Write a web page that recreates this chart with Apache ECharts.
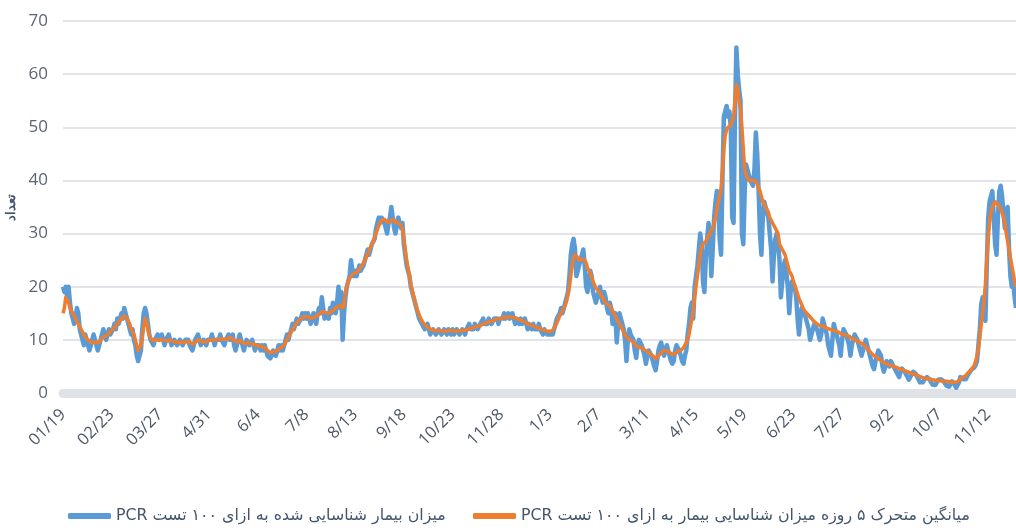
<!DOCTYPE html>
<html>
<head>
<meta charset="utf-8">
<title>PCR</title>
<script src="https://cdn.jsdelivr.net/npm/echarts@6/dist/echarts.min.js"></script>
<style>
  html, body { margin: 0; padding: 0; background: #fff; }
  #chart { width: 1016px; height: 532px; }
</style>
</head>
<body>
<div id="chart"></div>
<script>
// x tick labels, one every 35 days
const tickLabels = ["01/19", "02/23", "03/27", "4/31", "6/4", "7/8", "8/13", "9/18", "10/23", "11/28",
  "1/3", "2/7", "3/11", "4/15", "5/19", "6/23", "7/27", "9/2", "10/7", "11/12"];
const STEP = 35;

// daily positive rate per 100 PCR tests (blue), one row per 35 days
const dailyRate = [
  20,19,20,18,20,17,15,14,13,14,16,15,12,11,10,9,11,10,10,8,9,10,11,10,9,8,9,10,11,12,11,10,11,12,11,
  11,12,13,12,14,13,14,15,14,16,16,14,13,12,11,12,10,9,7,6,6,8,12,15,16,15,13,11,10,10,9,10,10,11,10,
  10,11,10,9,10,10,11,10,9,9,10,10,9,9,10,10,9,9,10,10,10,9,9,8,9,10,10,11,10,9,9,10,10,9,10,
  10,10,11,10,9,10,10,10,11,10,10,9,10,10,11,10,10,11,9,8,9,10,11,10,9,8,9,10,10,9,9,10,9,8,9,
  9,9,8,9,8,9,8,7,7,6.5,7,8,8,7,8,9,8,9,8,9,10,11,10,10,12,13,12,13,14,13,13,14,15,14,15,
  14,15,14,13,14,15,14,13,15,16,15,18,16,14,15,15,14,16,15,17,16,15,17,20,16,19,10,15,18,20,21,22,25,23,22,
  23,22,23,24,23,23,24,25,26,27,26,27,28,28,29,31,32,33,32,33,33,32,31,30,32,33,35,33,31,30,32,33,32,31,32,
  28,26,24,23,22,20,19,18,17,16,15,14,14,13,13,12,12,13,12,11,11,12,12,11,11,12,12,11,11,12,12,11,12,12,11,
  12,11,11,12,12,11,11,12,12,11,12,12,13,12,12,12,13,13,12,12,13,13,14,13,13,13,14,14,13,13,14,14,14,13,14,
  14,14,15,14,14,15,14,14,15,14,13,14,14,13,14,13,13,14,13,12,13,13,12,13,12,12,12,13,12,12,11,12,12,11,11,
  11,11,11,12,13,14,14,15,16,15,16,17,17,19,22,26,28,29,27,22,22,24,25,26,27,24,20,19,21,23,22,19,18,17,18,
  19,20,18,17,19,18,16,15,17,16,13,14,15,9.5,13,15,14,13,12,10,6,10,12,11,11,10,8,6.6,9,10,10,9,8,7,5.5,
  7,8,8,7,6,5,4.3,6,8,9,9.5,8,7,8,9,8,7,6,5.5,6,8,9,9,8,7,6,5.5,7,8,11,13,16,17,14,20,
  22,24,27,30,28,21,19,25,29,32,30,22,27,33,36,38,35,29,26,40,52,53,54,52,53,50,33,32,52,65,60,57,55,30,28,
  38,43,42,41,40,40,39,42,49,45,38,30,26,33,36,35,34,33,33,27,21,26,29,30,28,25,18,21,24,25,25,20,15,19,21,
  21,20,18,14,11,14,16,16,15,14,13,12,10,10,12,13,13,12,11,10,11,14,13,12,11,9,8,7,10,13,12,11,10,9,7,
  10,12,12,11,10,9,7,9,10,11,11,10,9,8,7,8,9,10,9,8,7,6,5,4.5,6,7,8,8,7,5,4,5,6,6,5,
  6,6,5,5,4,3.5,3,4,4.6,4.5,4,3.5,3,2.5,3,3.5,4,3.8,3.6,3,2.5,2,1.7,2,2.5,2.8,3,2.8,2.5,2,1.6,1.3,1.5,2,2.5,
  2.5,2.6,2.7,2.2,1.8,1.4,1.3,1.2,1.8,2.2,2,1.5,1,1.2,2,3,2.8,2.6,2.5,2.6,3.2,3.6,4,4.4,4.2,4.8,5.3,6,9,12,16.7,18,15,13.6,24,
  33,36,37,38,33,28,26,33,38,39,37,34,31,34,35,27,22,20,21,18,16
];

// 5 day moving average (orange), same rows
const movingAvg = [
  15,16,18,17.5,17,16,15.5,15,14.5,14,13.5,13,12.5,12,11.5,11,10.5,10.2,10,9.8,9.6,9.5,9.5,9.6,9.5,9.4,9.5,10,10.3,10.5,10.6,10.8,11,11.2,11.5,
  11.8,12,12.3,12.6,13,13.3,13.6,14,14.2,14.5,14.5,14,13.5,13,12,11.5,11,10,9,8,8,9,10.5,12.5,14,13.5,12,11,10.3,10,9.8,9.8,10,10,10,
  10,10,10,9.9,9.8,9.8,9.9,10,9.9,9.7,9.6,9.6,9.5,9.5,9.6,9.6,9.5,9.5,9.6,9.7,9.8,9.6,9.4,9.2,9.3,9.5,9.8,10,10,9.8,9.6,9.6,9.7,9.7,9.8,
  9.9,10,10,10.1,10,10,10,10.1,10.2,10.2,10.1,10,10.1,10.2,10.3,10.3,10.4,10.2,9.9,9.7,9.6,9.7,9.9,9.8,9.5,9.3,9.3,9.4,9.5,9.4,9.3,9.3,9.2,9,8.9,
  9,8.9,8.8,8.7,8.6,8.5,8.3,8,7.8,7.6,7.6,7.7,7.8,7.9,8,8.2,8.4,8.6,8.8,9,9.5,10,10.5,11,11.5,12,12.4,12.8,13.2,13.5,13.7,14,14.2,14.3,14.4,
  14.4,14.3,14.2,14,14,14.2,14.3,14.4,14.6,14.8,15,15.3,15.3,15.2,15,15,15,15.1,15.3,15.5,15.7,16,16,16.3,16.5,16.5,16,16.5,19,20,21,21.5,22,22.3,22.5,
  22.5,22.7,23,23.3,23.6,24,24.5,25,25.6,26.2,26.8,27.4,28,28.6,29.3,30,30.8,31.5,32,32.4,32.6,32.7,32.5,32.2,32,32.2,32.5,32.7,32.5,32.2,32,32,31.8,31.5,31,
  29,27,25,23.5,22,20.5,19.3,18.2,17.2,16.2,15.4,14.7,14.1,13.6,13.2,12.8,12.5,12.4,12.2,12,11.8,11.8,11.8,11.7,11.7,11.7,11.8,11.7,11.6,11.6,11.7,11.7,11.7,11.8,11.8,
  11.7,11.6,11.6,11.6,11.7,11.7,11.7,11.8,11.8,11.8,11.9,12,12.1,12.2,12.2,12.3,12.4,12.5,12.6,12.6,12.7,12.8,13,13.1,13.2,13.3,13.4,13.5,13.5,13.6,13.7,13.8,13.9,13.9,14,
  14,14.1,14.2,14.3,14.3,14.3,14.4,14.3,14.3,14.2,14.1,14,13.9,13.8,13.7,13.6,13.5,13.4,13.2,13,12.9,12.8,12.7,12.6,12.5,12.4,12.3,12.2,12.1,12,11.9,11.8,11.7,11.6,11.6,
  11.6,11.6,11.8,12.2,12.7,13.2,13.8,14.5,15,15.5,16,16.5,17.3,18.5,20,22,24,25.5,26,26,25.5,25,25,25.2,25.3,25,24.5,23.5,23,22.5,21.8,21,20.3,19.8,19.5,
  19.2,18.8,18.3,17.8,17.4,17,16.8,16.6,16.3,16,15.5,15,14.5,14,13.5,13,12.5,12,11.5,11,10.5,10.2,10,10,9.8,9.5,9.2,8.8,8.6,8.6,8.6,8.5,8.3,8.1,8,
  7.8,7.6,7.4,7.2,7,6.8,6.5,6.7,7,7.3,7.6,7.8,8,8,7.9,7.8,7.6,7.4,7.3,7.3,7.4,7.6,7.8,7.9,8,8.2,8.5,9,9.5,10,11,12.5,14,15.5,18,
  20,22,24,26,27.5,28,28,28.5,29,29.5,30,30.5,31,32,33,34.5,36,37,38.5,42,46,48.5,49.5,50,50.3,50.4,50.5,52,55,58,57,55,53.5,50,46,
  42,41,40.5,40,40,40,40,40,40,39.5,38.5,38,37,36,35.5,35,34.5,34,33,32.5,32,31.5,31,30.5,30,28,27.5,27,26.5,26,25,24,23,22.5,22,
  21,20.2,19.4,18.6,17.8,17.2,16.6,16,15.5,15.2,14.9,14.6,14.3,14,13.7,13.4,13.2,13,12.8,12.7,12.6,12.6,12.5,12.3,12.2,12.1,12,11.9,11.8,11.8,11.7,11.6,11.5,11.4,11.2,
  11.1,11,10.9,10.8,10.7,10.7,10.5,10.3,10.1,10,9.9,9.8,9.6,9.5,9.4,9.2,9,8.7,8.4,8.1,7.8,7.5,7.2,7,6.9,6.7,6.5,6.3,6.1,5.9,5.7,5.6,5.5,5.4,5.3,
  5.2,5.1,5,4.9,4.8,4.7,4.6,4.5,4.4,4.3,4.2,4.1,4,3.9,3.8,3.7,3.6,3.5,3.4,3.3,3.2,3.1,3,2.9,2.8,2.7,2.7,2.6,2.6,2.5,2.5,2.4,2.4,2.3,2.3,
  2.3,2.3,2.3,2.2,2.2,2.2,2.1,2.1,2,2,2,2,2,2.1,2.3,2.6,2.8,3,3.1,3.3,3.6,3.9,4.1,4.4,4.7,5.2,6,7,8.5,10.5,13,15,17.3,20.5,25,
  29,32,34,35,35.5,36,36,35.5,35,34.5,34,33,32,30,28.5,27,25.5,24,22.5,21,20
];

// categories: tick label every 35th day, day index elsewhere
const days = dailyRate.map((v, i) => (i % STEP === 0 ? tickLabels[i / STEP] : "d" + i));

// RTL embedding so that "PCR" sits at the left end like the original
const blueName = "\u202Bمیزان بیمار شناسایی شده به ازای ۱۰۰ تست PCR\u202C";
const orangeName = "\u202Bمیانگین متحرک ۵ روزه میزان شناسایی بیمار به ازای ۱۰۰ تست PCR\u202C";

const legendText = {
  fontSize: 15.8,
  color: "#44546a",
  fontFamily: "DejaVu Sans, sans-serif"
};

let myChart = echarts.init(document.getElementById("chart"));
myChart.setOption({
  animation: false,
  grid: { left: 63, right: 0, top: 21, bottom: 139, outerBoundsMode: "none" },
  legend: [
    {
      data: [blueName],
      left: 63, top: 503,
      icon: "roundRect", itemWidth: 43, itemHeight: 6,
      textStyle: legendText
    },
    {
      data: [orangeName],
      left: 468, top: 503,
      icon: "roundRect", itemWidth: 43, itemHeight: 6,
      textStyle: legendText
    }
  ],
  xAxis: {
    type: "category",
    data: days,
    boundaryGap: false,
    axisLine: { lineStyle: { color: "#dfe3e8", width: 9 } },
    axisTick: { show: false },
    axisLabel: {
      interval: STEP - 1,
      rotate: 45,
      margin: 19,
      fontSize: 16.5,
      color: "#4d5868",
      fontFamily: "Open Sans, sans-serif"
    }
  },
  yAxis: {
    type: "value",
    min: 0,
    max: 70,
    interval: 10,
    name: "تعداد",
    nameLocation: "middle",
    nameRotate: 90,
    nameGap: 45,
    nameTextStyle: { fontSize: 13, fontWeight: "bold", color: "#44546a" },
    axisLine: { show: false },
    axisTick: { show: false },
    axisLabel: {
      margin: 15,
      fontSize: 17,
      color: "#5b6475",
      fontFamily: "Open Sans, sans-serif"
    },
    splitLine: { lineStyle: { color: "#e1e5ea", width: 2 } }
  },
  series: [
    {
      name: blueName,
      type: "line",
      data: dailyRate,
      symbol: "none",
      color: "#5b9bd5",
      lineStyle: { color: "#5b9bd5", width: 4.5, join: "round" }
    },
    {
      name: orangeName,
      type: "line",
      data: movingAvg,
      symbol: "none",
      color: "#ed7d31",
      lineStyle: { color: "#ed7d31", width: 3.5, join: "round" }
    }
  ]
});
</script>
</body>
</html>
